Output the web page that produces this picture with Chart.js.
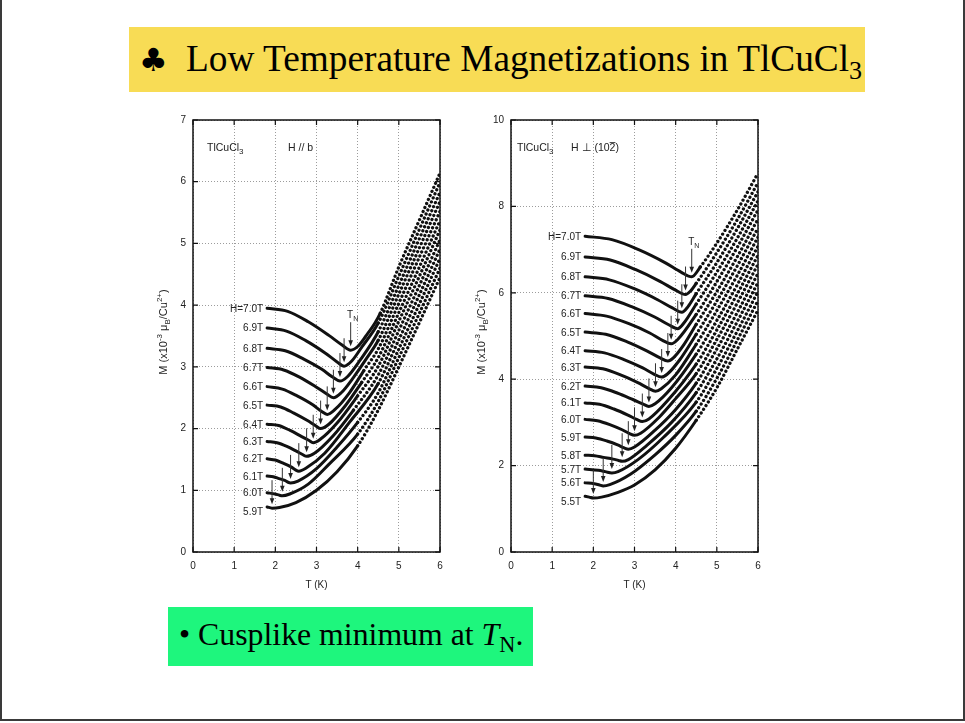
<!DOCTYPE html>
<html>
<head>
<meta charset="utf-8">
<script src="https://cdn.jsdelivr.net/npm/chart.js@4.4.0/dist/chart.umd.min.js"></script>
<style>
html, body { margin: 0; padding: 0; background: #fff; }
#slide { position: relative; width: 965px; height: 723px; overflow: hidden; font-family: "Liberation Serif", serif; }
#frame { position: absolute; left: 0; top: 0; width: 961px; height: 719px; border: 2px solid #3a3a3a; border-top: none; }
#title { position: absolute; left: 129px; top: 27px; width: 736px; height: 65px; background: #f8dc55; }
#title .club { position: absolute; left: 10px; top: 13px; font-size: 32px; line-height: 40px; font-family: "DejaVu Serif", serif; }
#title .txt { position: absolute; left: 57px; top: 9px; font-size: 37.3px; line-height: 46px; white-space: nowrap; }
#note { position: absolute; left: 168px; top: 607px; width: 365px; height: 59px; background: #1ef67d; }
#note .txt { position: absolute; left: 11px; top: 8px; font-size: 31.8px; line-height: 40px; white-space: nowrap; }
sub { font-size: 0.7em; vertical-align: -0.3em; line-height: 0; }
canvas { position: absolute; top: 105px; }
#chartB { left: 140px; }
#chartP { left: 458px; }
</style>
</head>
<body>
<div id="slide">
  <div id="frame"></div>
  <div id="title"><span class="club">&#9827;</span><span class="txt">Low Temperature Magnetizations in TlCuCl<sub>3</sub></span></div>
  <canvas id="chartB" width="315" height="500"></canvas>
  <canvas id="chartP" width="315" height="500"></canvas>
  <div id="note"><span class="txt">&bull; Cusplike minimum at <i>T</i><sub>N</sub>.</span></div>
</div>
<script>
// tick values
const tempTicks = [0, 1, 2, 3, 4, 5, 6];
const magTicksB = [0, 1, 2, 3, 4, 5, 6, 7];
const magTicksP = [0, 2, 4, 6, 8, 10];

// fields (T) for each curve, top curve first
const fieldsB = ['7.0', '6.9', '6.8', '6.7', '6.6', '6.5', '6.4', '6.3', '6.2', '6.1', '6.0', '5.9'];
const fieldsP = ['7.0', '6.9', '6.8', '6.7', '6.6', '6.5', '6.4', '6.3', '6.2', '6.1', '6.0', '5.9', '5.8', '5.7', '5.6', '5.5'];

const curvesB = [
  [[1.8,3.95],[2.3,3.90],[2.8,3.73],[3.3,3.51],[3.63,3.35],[3.83,3.27],[4.0,3.33],[4.2,3.5],[4.42,3.71],[4.55,3.87],[5.0,4.62],[5.5,5.38],[6.0,6.14]],
  [[1.8,3.63],[2.27,3.58],[2.73,3.43],[3.2,3.23],[3.5,3.08],[3.67,3.01],[3.85,3.09],[4.1,3.32],[4.5,3.71],[5.0,4.47],[5.5,5.23],[6.0,5.99]],
  [[1.8,3.30],[2.24,3.26],[2.68,3.13],[3.13,2.96],[3.4,2.83],[3.57,2.77],[3.75,2.84],[4.05,3.1],[4.5,3.57],[5.0,4.32],[5.5,5.08],[6.0,5.83]],
  [[1.8,2.99],[2.2,2.95],[2.6,2.83],[3.0,2.67],[3.25,2.56],[3.41,2.50],[3.6,2.58],[3.9,2.83],[4.2,3.12],[4.5,3.43],[5.0,4.18],[5.5,4.93],[6.0,5.68]],
  [[1.8,2.68],[2.17,2.64],[2.53,2.53],[2.9,2.39],[3.12,2.28],[3.26,2.23],[3.45,2.31],[3.8,2.58],[4.15,2.94],[4.5,3.29],[5.0,4.03],[5.5,4.78],[6.0,5.52]],
  [[1.8,2.38],[2.13,2.35],[2.45,2.25],[2.78,2.13],[2.97,2.05],[3.10,2.00],[3.3,2.07],[3.7,2.37],[4.1,2.75],[4.5,3.15],[5.0,3.88],[5.5,4.62],[6.0,5.37]],
  [[1.8,2.07],[2.08,2.05],[2.36,1.97],[2.64,1.87],[2.81,1.81],[2.92,1.77],[3.1,1.83],[3.5,2.09],[4.0,2.53],[4.5,3.01],[5.0,3.74],[5.5,4.47],[6.0,5.22]],
  [[1.8,1.79],[2.04,1.77],[2.28,1.71],[2.52,1.63],[2.66,1.58],[2.76,1.55],[2.95,1.6],[3.4,1.88],[3.9,2.3],[4.5,2.87],[5.0,3.59],[5.5,4.32],[6.0,5.06]],
  [[1.8,1.51],[2.0,1.49],[2.19,1.44],[2.38,1.38],[2.49,1.33],[2.57,1.31],[2.75,1.36],[3.2,1.6],[3.8,2.1],[4.5,2.73],[5.0,3.44],[5.5,4.17],[6.0,4.91]],
  [[1.8,1.23],[1.95,1.22],[2.09,1.19],[2.23,1.16],[2.31,1.13],[2.37,1.12],[2.55,1.15],[3.0,1.35],[3.5,1.7],[4.0,2.1],[4.5,2.58],[5.0,3.29],[5.5,4.02],[6.0,4.76]],
  [[1.8,0.96],[1.99,0.94],[2.1,0.92],[2.17,0.91],[2.35,0.94],[2.8,1.1],[3.3,1.42],[4.0,1.91],[4.5,2.44],[5.0,3.15],[5.5,3.87],[6.0,4.60]],
  [[1.8,0.73],[1.92,0.71],[2.1,0.72],[2.5,0.8],[3.0,1.0],[3.5,1.3],[4.0,1.72],[4.5,2.3],[5.0,3.0],[5.5,3.72],[6.0,4.45]]
];

const curvesP = [
  [[1.8,7.31],[2.45,7.23],[3.1,7.0],[3.74,6.70],[4.13,6.48],[4.39,6.37],[4.6,6.6],[5.0,7.15],[5.5,7.92],[6.0,8.77]],
  [[1.8,6.83],[2.41,6.76],[3.02,6.54],[3.63,6.26],[4.0,6.06],[4.24,5.96],[4.35,6.03],[4.5,6.22],[5.0,6.93],[5.5,7.70],[6.0,8.55]],
  [[1.8,6.37],[2.39,6.30],[2.98,6.10],[3.56,5.84],[3.92,5.65],[4.15,5.55],[4.3,5.68],[4.5,5.98],[5.0,6.70],[5.5,7.49],[6.0,8.34]],
  [[1.8,5.93],[2.36,5.87],[2.93,5.68],[3.49,5.44],[3.83,5.26],[4.05,5.17],[4.2,5.3],[4.5,5.74],[5.0,6.48],[5.5,7.27],[6.0,8.13]],
  [[1.8,5.52],[2.32,5.46],[2.85,5.29],[3.37,5.07],[3.68,4.90],[3.89,4.82],[4.05,4.92],[4.5,5.50],[5.0,6.26],[5.5,7.06],[6.0,7.92]],
  [[1.8,5.09],[2.3,5.04],[2.81,4.87],[3.31,4.65],[3.61,4.50],[3.81,4.42],[3.95,4.5],[4.2,4.8],[4.5,5.27],[5.0,6.03],[5.5,6.84],[6.0,7.71]],
  [[1.8,4.66],[2.27,4.61],[2.73,4.46],[3.2,4.26],[3.47,4.12],[3.66,4.05],[3.8,4.12],[4.1,4.45],[4.5,5.04],[5.0,5.81],[5.5,6.63],[6.0,7.50]],
  [[1.8,4.28],[2.23,4.24],[2.66,4.10],[3.08,3.92],[3.34,3.79],[3.51,3.72],[3.65,3.78],[4.0,4.1],[4.5,4.81],[5.0,5.59],[5.5,6.41],[6.0,7.29]],
  [[1.8,3.84],[2.19,3.80],[2.58,3.68],[2.96,3.53],[3.2,3.43],[3.35,3.37],[3.5,3.43],[3.9,3.8],[4.5,4.58],[5.0,5.36],[5.5,6.19],[6.0,7.08]],
  [[1.8,3.45],[2.15,3.42],[2.5,3.31],[2.84,3.17],[3.05,3.07],[3.19,3.02],[3.35,3.08],[3.8,3.5],[4.5,4.35],[5.0,5.14],[5.5,5.98],[6.0,6.87]],
  [[1.8,3.07],[2.1,3.04],[2.4,2.95],[2.7,2.83],[2.88,2.74],[3.0,2.70],[3.15,2.75],[3.6,3.12],[4.0,3.55],[4.5,4.13],[5.0,4.92],[5.5,5.77],[6.0,6.66]],
  [[1.8,2.66],[2.06,2.64],[2.33,2.57],[2.59,2.48],[2.75,2.41],[2.85,2.38],[3.0,2.43],[3.5,2.82],[4.0,3.3],[4.5,3.91],[5.0,4.70],[5.5,5.55],[6.0,6.45]],
  [[1.8,2.24],[2.03,2.23],[2.25,2.19],[2.48,2.15],[2.61,2.12],[2.70,2.10],[2.85,2.14],[3.3,2.47],[3.9,3.0],[4.5,3.69],[5.0,4.47],[5.5,5.34],[6.0,6.24]],
  [[1.8,1.92],[2.12,1.89],[2.29,1.86],[2.45,1.83],[2.6,1.86],[3.1,2.15],[3.7,2.65],[4.5,3.47],[5.0,4.25],[5.5,5.12],[6.0,6.03]],
  [[1.8,1.60],[2.02,1.58],[2.15,1.55],[2.24,1.53],[2.4,1.56],[2.9,1.8],[3.5,2.25],[4.0,2.7],[4.5,3.26],[5.0,4.02],[5.5,4.91],[6.0,5.82]],
  [[1.8,1.29],[1.9,1.27],[2.0,1.25],[2.2,1.27],[2.6,1.38],[3.0,1.55],[3.5,1.9],[4.0,2.4],[4.5,3.05],[5.0,3.80],[5.5,4.70],[6.0,5.60]]
];

const SANS = '"Liberation Sans", Arial, sans-serif';

// draw text made of pieces: [text, mode] with mode '', 'sub', 'sup', 'over'
function rich(ctx, x, y, parts, size, align) {
  const small = Math.round(size * 0.72);
  const fontOf = m => (m === 'sub' || m === 'sup' ? small : size) + 'px ' + SANS;
  let w = 0;
  parts.forEach(p => { ctx.font = fontOf(p[1]); w += ctx.measureText(p[0]).width; });
  let cx = align === 'center' ? x - w / 2 : align === 'right' ? x - w : x;
  ctx.textBaseline = 'alphabetic';
  ctx.textAlign = 'left';
  parts.forEach(p => {
    ctx.font = fontOf(p[1]);
    const pw = ctx.measureText(p[0]).width;
    const dy = p[1] === 'sub' ? size * 0.3 : p[1] === 'sup' ? -size * 0.45 : 0;
    ctx.fillText(p[0], cx, y + dy);
    if (p[1] === 'over') {
      ctx.fillRect(cx, y - size * 0.85, pw, 0.8);
    }
    cx += pw;
  });
}

function makeDecor(fields, innerText) {
  return {
    id: 'decor',
    afterDatasetsDraw(chart) {
      const ctx = chart.ctx;
      const a = chart.chartArea;
      const sx = chart.scales.x, sy = chart.scales.y;
      ctx.save();
      // frame
      ctx.strokeStyle = '#111';
      ctx.lineWidth = 1.5;
      ctx.strokeRect(a.left, a.top, a.right - a.left, a.bottom - a.top);
      // inward ticks on all sides
      ctx.lineWidth = 1.2;
      ctx.beginPath();
      sx.ticks.forEach(t => {
        const px = sx.getPixelForValue(t.value);
        ctx.moveTo(px, a.bottom); ctx.lineTo(px, a.bottom - 5);
        ctx.moveTo(px, a.top); ctx.lineTo(px, a.top + 5);
      });
      sy.ticks.forEach(t => {
        const py = sy.getPixelForValue(t.value);
        ctx.moveTo(a.left, py); ctx.lineTo(a.left + 5, py);
        ctx.moveTo(a.right, py); ctx.lineTo(a.right - 5, py);
      });
      ctx.stroke();

      // arrows at the minimum of each curve, and field labels
      ctx.fillStyle = '#222';
      ctx.strokeStyle = '#333';
      ctx.lineWidth = 1;
      let firstArrow = null;
      chart.data.datasets.forEach((ds, i) => {
        const pts = ds.data;
        let m = pts[0];
        pts.forEach(p => { if (p.y < m.y) m = p; });
        const ax = sx.getPixelForValue(m.x);
        const tip = sy.getPixelForValue(m.y) - 4;
        const tail = tip - 24;
        if (i === 0) firstArrow = { x: ax, y: tail };
        ctx.beginPath();
        ctx.moveTo(ax, tail); ctx.lineTo(ax, tip - 5);
        ctx.stroke();
        ctx.beginPath();
        ctx.moveTo(ax, tip); ctx.lineTo(ax - 2.3, tip - 6); ctx.lineTo(ax + 2.3, tip - 6);
        ctx.closePath(); ctx.fill();

        const lx = sx.getPixelForValue(pts[0].x) - 4;
        let ly = sy.getPixelForValue(pts[0].y) + 3.5;
        if (i === fields.length - 1) ly += 5;
        ctx.font = '10px ' + SANS;
        ctx.textAlign = 'right';
        ctx.textBaseline = 'alphabetic';
        ctx.fillText((i === 0 ? 'H=' : '') + fields[i] + 'T', lx, ly);
      });
      // T_N label above the top arrow
      rich(ctx, firstArrow.x + 2, firstArrow.y - 4, [['T', ''], ['N', 'sub']], 10, 'center');

      // texts inside the panel
      innerText.forEach(it => rich(ctx, a.left + it.dx, a.top + it.dy, it.parts, 10.5, 'left'));

      // axis titles
      rich(ctx, (a.left + a.right) / 2, a.bottom + 36, [['T (K)', '']], 10, 'center');
      ctx.translate(a.left - 26, (a.top + a.bottom) / 2 - 4);
      ctx.rotate(-Math.PI / 2);
      rich(ctx, 0, 0, [['M (x10', ''], ['-3', 'sup'], [' \u03bc', ''], ['B', 'sub'], ['/Cu', ''], ['2+', 'sup'], [')', '']], 11, 'center');
      ctx.restore();
    }
  };
}

function build(id, fields, curves, yTicks, dotFrom, innerText) {
  const datasets = curves.map((pts, i) => {
    const thr = dotFrom(i);
    return {
      data: pts.map(p => ({ x: p[0], y: p[1] })),
      borderColor: '#111',
      borderWidth: 3,
      borderCapStyle: 'round',
      borderJoinStyle: 'round',
      pointRadius: 0,
      fill: false,
      cubicInterpolationMode: 'monotone',
      segment: {
        borderDash: c => (c.p0.parsed.x >= thr ? [0.01, 4.4] : undefined),
        borderWidth: c => (c.p0.parsed.x >= thr ? 3.3 : undefined)
      }
    };
  });
  const tickFont = { family: SANS, size: 10 };
  new Chart(document.getElementById(id), {
    type: 'line',
    data: { datasets },
    options: {
      responsive: false,
      animation: false,
      events: [],
      layout: { padding: { top: 15, right: 15, left: 0, bottom: 0 } },
      plugins: { legend: { display: false }, tooltip: { enabled: false } },
      scales: {
        x: {
          type: 'linear',
          min: tempTicks[0],
          max: tempTicks[tempTicks.length - 1],
          afterBuildTicks: s => { s.ticks = tempTicks.map(v => ({ value: v })); },
          afterFit: s => { s.height = 53; },
          grid: { color: '#9c9c9c', lineWidth: 1, drawTicks: false },
          border: { display: false, dash: [1, 2] },
          ticks: { color: '#222', font: tickFont, padding: 8 }
        },
        y: {
          type: 'linear',
          min: yTicks[0],
          max: yTicks[yTicks.length - 1],
          afterBuildTicks: s => { s.ticks = yTicks.map(v => ({ value: v })); },
          afterFit: s => { s.width = 53; },
          grid: { color: '#9c9c9c', lineWidth: 1, drawTicks: false },
          border: { display: false, dash: [1, 2] },
          ticks: { color: '#222', font: tickFont, padding: 7 }
        }
      }
    },
    plugins: [makeDecor(fields, innerText)]
  });
}

build('chartB', fieldsB, curvesB, magTicksB,
  i => 4.45 - i * 0.08,
  [
    { dx: 14, dy: 31, parts: [['TlCuCl', ''], ['3', 'sub']] },
    { dx: 95, dy: 31, parts: [['H // b', '']] }
  ]);

build('chartP', fieldsP, curvesP, magTicksP,
  i => 4.4,
  [
    { dx: 6, dy: 31, parts: [['TlCuCl', ''], ['3', 'sub']] },
    { dx: 60, dy: 31, parts: [['H \u22a5 (10', ''], ['2', 'over'], [')', '']] }
  ]);
</script>
</body>
</html>
